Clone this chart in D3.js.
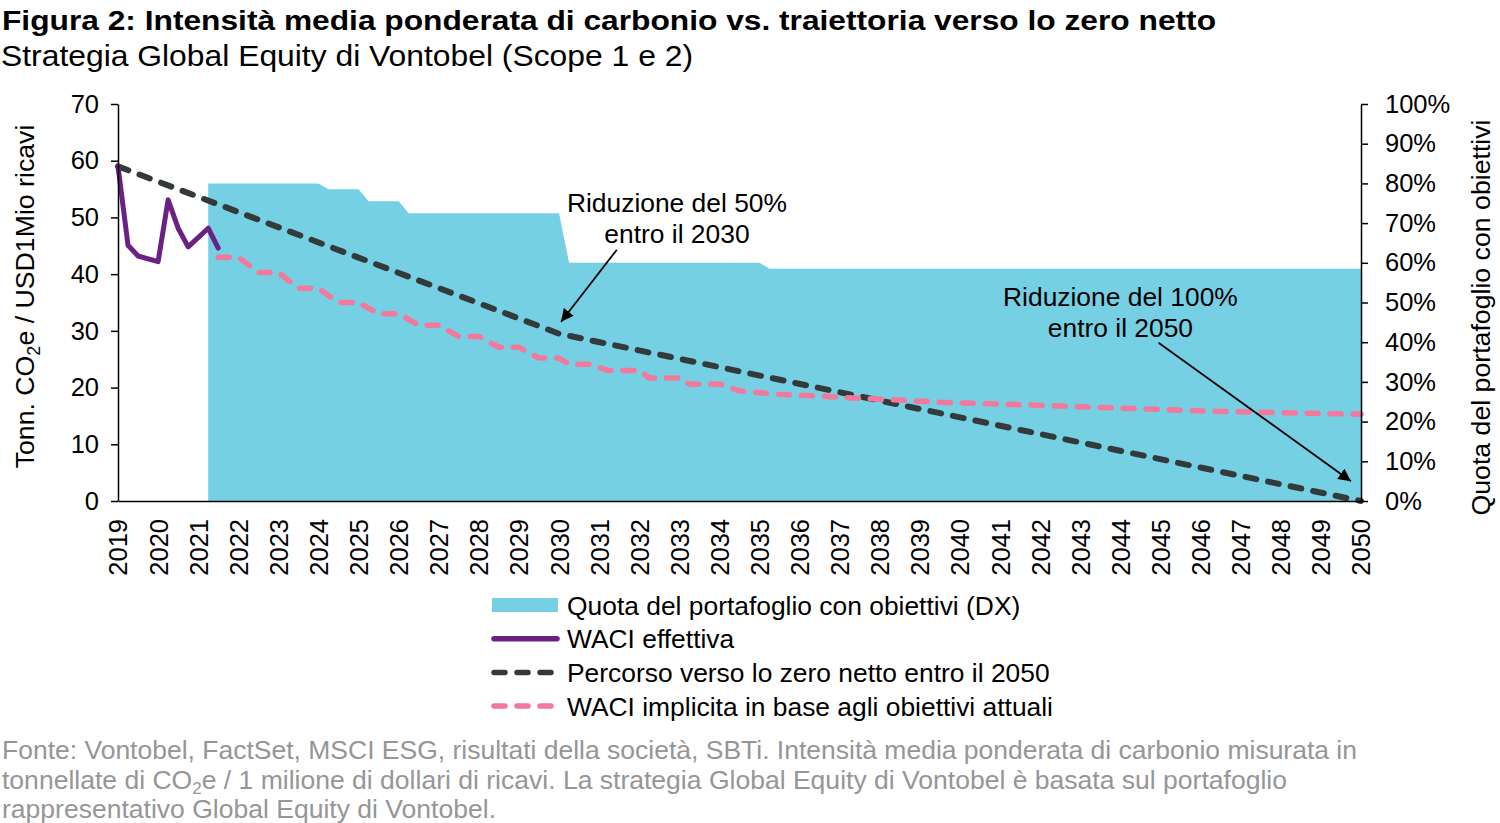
<!DOCTYPE html>
<html>
<head>
<meta charset="utf-8">
<script src="https://cdn.jsdelivr.net/npm/d3@7"></script>
<style>
  body { margin: 0; background: #fff; }
  svg text { font-family: "Liberation Sans", Arial, sans-serif; }
</style>
</head>
<body>
<svg id="chart"></svg>
<script>
const width = 1500;
const height = 823;

// years on the x axis
const years = d3.range(2019, 2051);

// share of portfolio with targets (right axis, %)
const shareDates = [2021.25, 2024, 2024.25, 2025, 2025.25, 2026, 2026.25, 2030, 2030.25, 2035, 2035.25, 2050];
const shareValues = [80, 80, 78.5, 78.5, 75.5, 75.5, 72.5, 72.5, 60, 60, 58.5, 58.5];

// actual WACI
const waciDates = [2019, 2019.25, 2019.5, 2020, 2020.25, 2020.5, 2020.75, 2021.25, 2021.5];
const waciValues = [59, 45.1, 43.2, 42.2, 53.1, 48.1, 44.8, 48.1, 44.6];

// net zero path
const pathDates = [2019, 2030, 2050];
const pathValues = [59, 29.5, 0];

// implied WACI from current targets
const impliedDates = [2021.5, 2022, 2022.5, 2023, 2023.5, 2024, 2024.5, 2025, 2025.5, 2026, 2026.5, 2027,
  2027.5, 2028, 2028.5, 2029, 2029.5, 2030, 2030.25, 2030.75, 2031.25, 2032, 2032.25, 2033, 2033.25, 2034,
  2034.5, 2035.5, 2036.5, 2037.5, 2038.5, 2039.5, 2041, 2043.5, 2046, 2048.5, 2050];
const impliedValues = [43, 43, 40.3, 40.3, 37.5, 37.5, 35, 35, 33, 33, 31, 31,
  29, 29, 27.1, 27.1, 25.2, 25.2, 24.1, 24.1, 23, 23, 21.7, 21.7, 20.6, 20.6,
  19.4, 18.8, 18.5, 18.1, 17.8, 17.4, 17.1, 16.5, 15.9, 15.5, 15.3];

const leftTicks = [0, 10, 20, 30, 40, 50, 60, 70];
const rightTicks = [0, 0.1, 0.2, 0.3, 0.4, 0.5, 0.6, 0.7, 0.8, 0.9, 1];

const colors = {
  share: "#76d0e4",
  waci: "#6b2184",
  path: "#333a3a",
  implied: "#f4789c"
};

const svg = d3.select("#chart").attr("width", width).attr("height", height);

const x = d3.scaleLinear().domain([2019, 2050]).range([118, 1361]);
const yL = d3.scaleLinear().domain([0, 70]).range([501, 104]);
const yR = d3.scaleLinear().domain([0, 1]).range([501, 104]);

// title
svg.append("text").attr("x", 2).attr("y", 30)
  .attr("textLength", 1214).attr("lengthAdjust", "spacingAndGlyphs")
  .style("font-size", "28px").style("font-weight", "bold").attr("fill", "#000")
  .text("Figura 2: Intensità media ponderata di carbonio vs. traiettoria verso lo zero netto");
svg.append("text").attr("x", 1).attr("y", 66)
  .attr("textLength", 692).attr("lengthAdjust", "spacingAndGlyphs")
  .style("font-size", "29px").attr("fill", "#000")
  .text("Strategia Global Equity di Vontobel (Scope 1 e 2)");

// area
const shareData = shareDates.map((d, i) => ({ x: d, v: shareValues[i] / 100 }));
svg.append("path")
  .datum(shareData)
  .attr("fill", colors.share)
  .attr("d", d3.area().x(d => x(d.x)).y0(yR(0)).y1(d => yR(d.v)));

// lines
function drawLine(dates, values, scale, color, w, dash) {
  const data = dates.map((d, i) => ({ x: d, v: values[i] }));
  svg.append("path")
    .datum(data)
    .attr("fill", "none")
    .attr("stroke", color)
    .attr("stroke-width", w)
    .attr("stroke-dasharray", dash)
    .attr("stroke-linecap", "round")
    .attr("stroke-linejoin", "round")
    .attr("d", d3.line().x(d => x(d.x)).y(d => scale(d.v)));
}
drawLine(pathDates, pathValues, yL, colors.path, 6, "11,12");
drawLine(impliedDates, impliedValues, yL, colors.implied, 5.5, "11,12");
drawLine(waciDates, waciValues, yL, colors.waci, 5, null);

// axes
const axisL = svg.append("g").attr("transform", `translate(${x(2019)},0)`)
  .call(d3.axisLeft(yL).tickValues(leftTicks).tickSize(7).tickSizeOuter(0).tickPadding(12));
const axisR = svg.append("g").attr("transform", `translate(${x(2050)},0)`)
  .call(d3.axisRight(yR).tickValues(rightTicks).tickSize(7).tickSizeOuter(0).tickPadding(17)
    .tickFormat(d3.format(".0%")));
const axisB = svg.append("g").attr("transform", `translate(0,${yL(0)})`)
  .call(d3.axisBottom(x).tickValues(years).tickSize(0).tickFormat(d3.format("d")));
axisB.selectAll("text")
  .attr("transform", "rotate(-90)")
  .attr("text-anchor", "end")
  .attr("x", -18).attr("y", 0).attr("dy", "0.35em");

[axisL, axisR, axisB].forEach(a => {
  a.selectAll("path, line").attr("stroke", "#000").attr("stroke-width", 1.5);
  a.selectAll("text").style("font-size", "25.5px").attr("fill", "#000")
    .style("font-family", "'Liberation Sans', Arial, sans-serif");
});

// axis titles
const lt = svg.append("text")
  .attr("transform", `translate(34,${(yL(0) + yL(70)) / 2 - 6}) rotate(-90)`)
  .attr("text-anchor", "middle").style("font-size", "26.7px").attr("fill", "#000");
lt.append("tspan").text("Tonn. CO");
lt.append("tspan").attr("dy", 6).style("font-size", "18px").text("2");
lt.append("tspan").attr("dy", -6).text("e / USD1Mio ricavi");

svg.append("text")
  .attr("transform", `translate(1490,${(yR(0) + yR(1)) / 2 + 15}) rotate(-90)`)
  .attr("text-anchor", "middle").style("font-size", "26.7px").attr("fill", "#000")
  .text("Quota del portafoglio con obiettivi");

// annotations
svg.append("defs").append("marker")
  .attr("id", "arrow").attr("viewBox", "0 0 10 10")
  .attr("refX", 10).attr("refY", 5)
  .attr("markerWidth", 7).attr("markerHeight", 7)
  .attr("orient", "auto")
  .append("path").attr("d", "M0,0L10,5L0,10Z").attr("fill", "#000");

const notes = [
  { lines: ["Riduzione del 50%", "entro il 2030"], tx: 2032.94, ty: 50.9, from: [2031.44, 44.3], to: [2030.05, 31.6] },
  { lines: ["Riduzione del 100%", "entro il 2050"], tx: 2044.0, ty: 34.3, from: [2044.95, 27.9], to: [2049.75, 3.5] }
];
notes.forEach(n => {
  const t = svg.append("text").attr("text-anchor", "middle")
    .style("font-size", "26.4px").attr("fill", "#000");
  n.lines.forEach((l, i) => {
    t.append("tspan").attr("x", x(n.tx)).attr("y", yL(n.ty) + i * 31).text(l);
  });
  svg.append("line")
    .attr("x1", x(n.from[0])).attr("y1", yL(n.from[1]))
    .attr("x2", x(n.to[0])).attr("y2", yL(n.to[1]))
    .attr("stroke", "#000").attr("stroke-width", 1.8)
    .attr("marker-end", "url(#arrow)");
});

// legend
const legendItems = [
  { label: "Quota del portafoglio con obiettivi (DX)", type: "box", color: colors.share },
  { label: "WACI effettiva", type: "line", color: colors.waci, dash: null },
  { label: "Percorso verso lo zero netto entro il 2050", type: "line", color: colors.path, dash: "11,12" },
  { label: "WACI implicita in base agli obiettivi attuali", type: "line", color: colors.implied, dash: "11,12" }
];
const legend = svg.append("g");
legendItems.forEach((d, i) => {
  const cy = 605 + i * 33.7;
  if (d.type === "box") {
    legend.append("rect").attr("x", 492).attr("y", cy - 7).attr("width", 66).attr("height", 14)
      .attr("fill", d.color);
  } else {
    legend.append("line").attr("x1", 494).attr("x2", 557).attr("y1", cy).attr("y2", cy)
      .attr("stroke", d.color).attr("stroke-width", 5.5)
      .attr("stroke-linecap", "round")
      .attr("stroke-dasharray", d.dash);
  }
  legend.append("text").attr("x", 567).attr("y", cy).attr("dy", "0.36em")
    .style("font-size", "26.4px").attr("fill", "#000").text(d.label);
});

// footer
const foot = svg.append("g").style("font-size", "25px").attr("fill", "#969696");
foot.append("text").attr("x", 2).attr("y", 759)
  .attr("textLength", 1355).attr("lengthAdjust", "spacingAndGlyphs")
  .text("Fonte: Vontobel, FactSet, MSCI ESG, risultati della società, SBTi. Intensità media ponderata di carbonio misurata in");
const l2 = foot.append("text").attr("x", 2).attr("y", 789)
  .attr("textLength", 1285).attr("lengthAdjust", "spacingAndGlyphs");
l2.append("tspan").text("tonnellate di CO");
l2.append("tspan").attr("dy", 5).style("font-size", "16px").text("2");
l2.append("tspan").attr("dy", -5)
  .text("e / 1 milione di dollari di ricavi. La strategia Global Equity di Vontobel è basata sul portafoglio");
foot.append("text").attr("x", 2).attr("y", 818)
  .attr("textLength", 494).attr("lengthAdjust", "spacingAndGlyphs")
  .text("rappresentativo Global Equity di Vontobel.");
</script>
</body>
</html>
